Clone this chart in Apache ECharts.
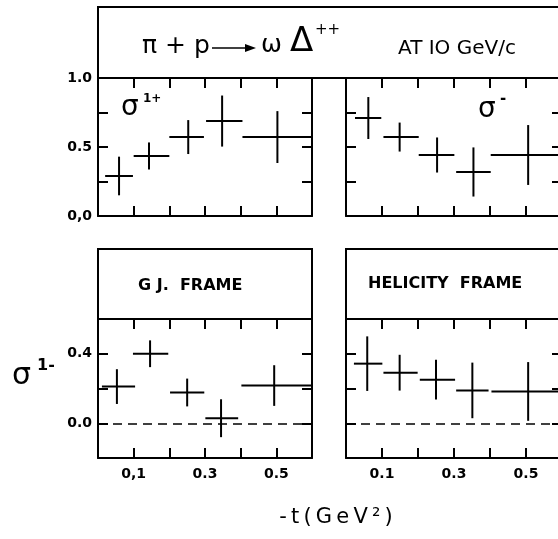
<!DOCTYPE html>
<html><head><meta charset="utf-8">
<script src="https://cdn.jsdelivr.net/npm/echarts@6/dist/echarts.min.js"></script>
<style>html,body{margin:0;padding:0;background:#fff}#c{width:558px;height:539px}</style>
</head><body><div id="c"></div>
<script>
// ---- data ----
// top-left: sigma^{1+}
const s1pCenter = [0.059, 0.143, 0.253, 0.348, 0.503];
const s1pLo     = [0.020, 0.100, 0.200, 0.303, 0.405];
const s1pHi     = [0.098, 0.200, 0.297, 0.405, 0.600];
const s1pVal    = [0.29, 0.435, 0.572, 0.688, 0.572];
const s1pErr    = [0.14, 0.098, 0.123, 0.185, 0.188];
// top-right: sigma^{-}
const smCenter = [0.062, 0.149, 0.253, 0.354, 0.506];
const smLo     = [0.025, 0.104, 0.202, 0.306, 0.402];
const smHi     = [0.098, 0.202, 0.301, 0.402, 0.600];
const smVal    = [0.71, 0.572, 0.442, 0.319, 0.442];
const smErr    = [0.152, 0.105, 0.127, 0.178, 0.217];
// bottom-left: sigma^{1-}, G.J. frame
const gjCenter = [0.053, 0.146, 0.250, 0.345, 0.494];
const gjLo     = [0.011, 0.098, 0.202, 0.301, 0.402];
const gjHi     = [0.104, 0.197, 0.298, 0.393, 0.600];
const gjVal    = [0.211, 0.400, 0.177, 0.029, 0.217];
const gjErr    = [0.100, 0.077, 0.080, 0.109, 0.117];
// bottom-right: sigma^{1-}, helicity frame
const heCenter = [0.059, 0.149, 0.250, 0.351, 0.506];
const heLo     = [0.022, 0.104, 0.205, 0.306, 0.404];
const heHi     = [0.101, 0.199, 0.303, 0.396, 0.600];
const heVal    = [0.343, 0.291, 0.251, 0.189, 0.183];
const heErr    = [0.157, 0.103, 0.114, 0.160, 0.169];
// tick labels
const xLabelValues     = [0.1, 0.3, 0.5];
const xLabelTextLeft   = ['0,1', '0.3', '0.5'];
const xLabelTextRight  = ['0.1', '0.3', '0.5'];
const topYLabelValues  = [0, 0.5, 1.0];
const topYLabelText    = ['0,0', '0.5', '1.0'];
const botYLabelValues  = [0, 0.4];
const botYLabelText    = ['0.0', '0.4'];
const zeroLine = [0];

// ---- build ----
const FONT = 'DejaVu Sans';
function pick(vals, texts) {
  return function (v) {
    for (let i = 0; i < vals.length; i++) if (Math.abs(vals[i] - v) < 1e-6) return texts[i];
    return '';
  };
}
function rows(c, lo, hi, v, e) { return c.map((x, i) => [x, v[i], lo[i], hi[i], e[i]]); }

const gridBase = {containLabel: false, outerBoundsMode: 'none'};
const grids = [
  Object.assign({left: 98, top: 78, width: 214, height: 138}, gridBase),
  Object.assign({left: 346, top: 78, width: 216, height: 138}, gridBase),
  Object.assign({left: 98, top: 319, width: 214, height: 139}, gridBase),
  Object.assign({left: 346, top: 319, width: 216, height: 139}, gridBase)
];
const lineS = {onZero: false, lineStyle: {color: '#000', width: 2}};
const tickS = {show: true, inside: true, length: 10, lineStyle: {color: '#000', width: 2}};
const labS = {color: '#000', fontSize: 14, fontWeight: 'bold', fontFamily: FONT};
const xAxis = [], yAxis = [];
grids.forEach((g, i) => {
  const bottomRow = i >= 2;
  const leftCol = i % 2 === 0;
  xAxis.push({gridIndex: i, type: 'value', min: 0, max: 0.6, interval: 0.1, position: 'bottom',
    axisLine: lineS, axisTick: tickS, splitLine: {show: false},
    axisLabel: Object.assign({show: bottomRow, margin: 9,
      formatter: pick(xLabelValues, leftCol ? xLabelTextLeft : xLabelTextRight)}, labS)});
  xAxis.push({gridIndex: i, type: 'value', min: 0, max: 0.6, interval: 0.1, position: 'top',
    axisLine: lineS, axisTick: tickS, splitLine: {show: false}, axisLabel: {show: false}});
  const ymin = bottomRow ? -0.2 : 0, ymax = bottomRow ? 0.6 : 1.0, yint = bottomRow ? 0.2 : 0.25;
  yAxis.push({gridIndex: i, type: 'value', min: ymin, max: ymax, interval: yint, position: 'left',
    axisLine: lineS, axisTick: tickS, splitLine: {show: false},
    axisLabel: Object.assign({show: leftCol, margin: 6,
      formatter: bottomRow ? pick(botYLabelValues, botYLabelText) : pick(topYLabelValues, topYLabelText)}, labS)});
  yAxis.push({gridIndex: i, type: 'value', min: ymin, max: ymax, interval: yint, position: 'right',
    axisLine: lineS, axisTick: tickS, splitLine: {show: false}, axisLabel: {show: false}});
});

function crossSeries(i, data, withZero) {
  const s = {
    type: 'custom', xAxisIndex: 2 * i, yAxisIndex: 2 * i, data: data, clip: false,
    renderItem: function (params, api) {
      const x = api.value(0), y = api.value(1), lo = api.value(2), hi = api.value(3), e = api.value(4);
      const L = api.coord([lo, y]), H = api.coord([hi, y]);
      const T = api.coord([x, y + e]), B = api.coord([x, y - e]);
      const st = {stroke: '#000', lineWidth: 2};
      return {type: 'group', children: [
        {type: 'line', shape: {x1: L[0], y1: L[1], x2: H[0], y2: H[1]}, style: st},
        {type: 'line', shape: {x1: T[0], y1: T[1], x2: B[0], y2: B[1]}, style: st}
      ]};
    }
  };
  if (withZero) {
    s.markLine = {silent: true, symbol: 'none', label: {show: false},
      lineStyle: {color: '#000', width: 1.5, type: [9, 6]},
      data: zeroLine.map(v => ({yAxis: v}))};
  }
  return s;
}

const series = [
  crossSeries(0, rows(s1pCenter, s1pLo, s1pHi, s1pVal, s1pErr), false),
  crossSeries(1, rows(smCenter, smLo, smHi, smVal, smErr), false),
  crossSeries(2, rows(gjCenter, gjLo, gjHi, gjVal, gjErr), true),
  crossSeries(3, rows(heCenter, heLo, heHi, heVal, heErr), true)
];

const boxStyle = {stroke: '#000', lineWidth: 2, fill: 'none'};
const txt = (x, y, text, size, align, weight) => ({type: 'text', x: x, y: y,
  style: {text: text, fill: '#000', font: (weight || 'normal') + ' ' + size + 'px "' + FONT + '"', textAlign: align || 'left', textVerticalAlign: 'middle'}});
const TS = '\u2009';

const graphic = [
  {type: 'rect', shape: {x: 98, y: 7, width: 475, height: 71}, style: boxStyle},
  {type: 'rect', shape: {x: 98, y: 249, width: 214, height: 70}, style: boxStyle},
  {type: 'rect', shape: {x: 346, y: 249, width: 230, height: 70}, style: boxStyle},
  // title
  txt(142, 46, 'π + p', 25),
  {type: 'line', shape: {x1: 212, y1: 48, x2: 248, y2: 48}, style: {stroke: '#000', lineWidth: 1.5}},
  {type: 'polygon', shape: {points: [[245, 44], [256, 48], [245, 52]]}, style: {fill: '#000'}},
  txt(261, 45, 'ω', 25),
  txt(290, 42, 'Δ', 34),
  txt(315, 30, '++', 15),
  txt(398, 49, 'AT IO GeV/c', 20),
  // frame labels
  txt(138, 286, 'G J.  FRAME', 16, 'left', 'bold'),
  txt(368, 284, 'HELICITY  FRAME', 16, 'left', 'bold'),
  // sigma labels
  txt(121, 108, 'σ', 28),
  txt(143, 99, '1+', 12, 'left', 'bold'),
  txt(478, 110, 'σ', 28),
  txt(500, 99, '-', 15, 'left', 'bold'),
  txt(12, 376, 'σ', 30),
  txt(37, 366, '1-', 16, 'left', 'bold'),
  // x title
  txt(336, 518, ['-', 't', '(', 'G', 'e', 'V', '²', ')'].join(TS), 21, 'center')
];

const chart = echarts.init(document.getElementById('c'), null, {renderer: 'canvas'});
chart.setOption({
  animation: false,
  backgroundColor: '#fff',
  grid: grids,
  xAxis: xAxis,
  yAxis: yAxis,
  series: series,
  graphic: graphic
});
</script></body></html>
